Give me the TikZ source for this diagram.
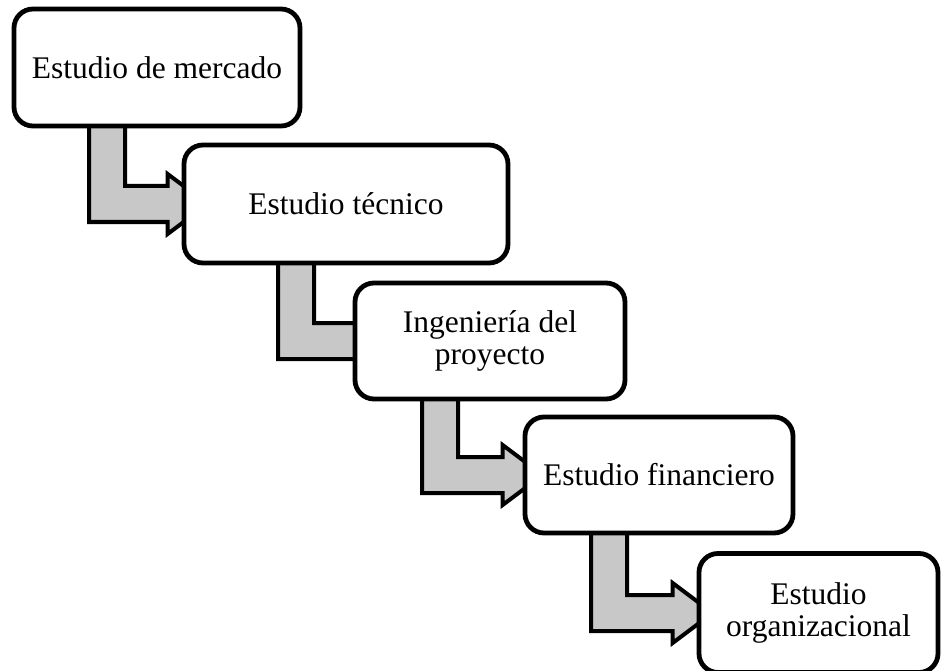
\documentclass[tikz,border=0pt]{standalone}
\usepackage{fontspec}
\setmainfont{Liberation Serif}
\usetikzlibrary{calc}
\definecolor{arrowgray}{RGB}{200,200,200}
\tikzset{
  stagebox/.style={draw=black, line width=4.8pt, fill=white, rounded corners=19pt,
    align=center, inner sep=0pt, font=\fontsize{31.5}{32.5}\selectfont},
  blockarrow/.style={draw=black, line width=4pt, fill=arrowgray, line join=miter}
}
% #1 = head start offset before target, #2 = source, #3 = target
\newcommand\bentarr[3][18]{%
  \path[blockarrow] let \p1=(#2.south), \p2=(#3.west) in
    (\x1-68pt,\y1+6pt) -- (\x1-32pt,\y1+6pt) -- (\x1-32pt,\y2+18pt) --
    (\x2-#1pt,\y2+18pt) -- (\x2-#1pt,\y2+30pt) -- (\x2-#1pt+40pt,\y2) --
    (\x2-#1pt,\y2-30pt) -- (\x2-#1pt,\y2-18pt) -- (\x1-68pt,\y2-18pt) -- cycle;}
\begin{document}
\begin{tikzpicture}[x=1pt,y=-1pt]
\useasboundingbox (0,0) rectangle (942,671);
\coordinate (c1) at (157,67.5);
\coordinate (c2) at (346,204);
\coordinate (c3) at (490,341);
\coordinate (c4) at (659,475);
\coordinate (c5) at (818.5,613);
% invisible placeholders for anchors (boxes are drawn later on top)
\path (c1) node[stagebox, draw=none, fill=none, minimum width=286pt, minimum height=117pt] (a1) {};
\path (c2) node[stagebox, draw=none, fill=none, minimum width=324pt, minimum height=118pt] (a2) {};
\path (c3) node[stagebox, draw=none, fill=none, minimum width=270pt, minimum height=116pt] (a3) {};
\path (c4) node[stagebox, draw=none, fill=none, minimum width=268pt, minimum height=116pt] (a4) {};
\path (c5) node[stagebox, draw=none, fill=none, minimum width=239pt, minimum height=119pt] (a5) {};
\bentarr[14]{a1}{a2}
\bentarr[-4]{a2}{a3}
\bentarr[20]{a3}{a4}
\bentarr[24]{a4}{a5}
\node[stagebox, minimum width=286pt, minimum height=117pt] (b1) at (c1) {Estudio de mercado};
\node[stagebox, minimum width=324pt, minimum height=118pt] (b2) at (c2) {Estudio técnico};
\node[stagebox, minimum width=270pt, minimum height=116pt] (b3) at (c3) {Ingeniería del\\proyecto};
\node[stagebox, minimum width=268pt, minimum height=116pt] (b4) at (c4) {Estudio financiero};
\node[stagebox, minimum width=239pt, minimum height=119pt] (b5) at (c5) {Estudio\\organizacional};
\end{tikzpicture}
\end{document}
